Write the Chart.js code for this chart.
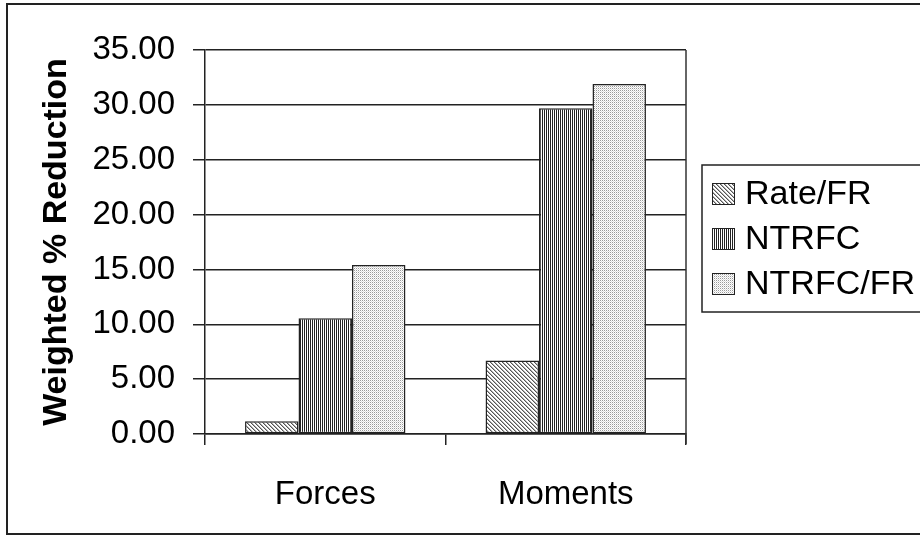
<!DOCTYPE html>
<html>
<head>
<meta charset="utf-8">
<script src="https://cdn.jsdelivr.net/npm/chart.js@4/dist/chart.umd.min.js"></script>
<style>
  html, body { margin: 0; padding: 0; background: #fff; }
  #wrap { width: 920px; height: 536px; }
</style>
</head>
<body>
<div id="wrap"><canvas id="c" width="920" height="536"></canvas></div>
<script>
// Weighted % reduction by load type
const categories = ['Forces', 'Moments'];
const seriesNames = ['Rate/FR', 'NTRFC', 'NTRFC/FR'];
const rateFR = [1.16, 6.70];
const ntrfc = [10.55, 29.69];
const ntrfcFR = [15.40, 31.90];
const yTicks = [0, 5, 10, 15, 20, 25, 30, 35];

const FONT = '"Liberation Sans", Arial, Helvetica, sans-serif';

// Small monochrome fill patterns for the bars
function makePattern(size, painter) {
  const cv = document.createElement('canvas');
  cv.width = size; cv.height = size;
  const g = cv.getContext('2d');
  g.fillStyle = '#fff';
  g.fillRect(0, 0, size, size);
  painter(g, size);
  return document.getElementById('c').getContext('2d').createPattern(cv, 'repeat');
}
const diagPattern = makePattern(4, (g, s) => {
  for (let i = 0; i < s; i++) {
    g.fillStyle = '#555'; g.fillRect(i, i, 1, 1);
    g.fillStyle = '#b0b0b0'; g.fillRect((i + 1) % s, i, 1, 1);
  }
});
const vertPattern = makePattern(2, (g, s) => {
  g.fillStyle = '#222'; g.fillRect(0, 0, 1, s);
});
const dotPattern = makePattern(2, (g, s) => {
  g.fillStyle = '#9a9a9a'; g.fillRect(0, 0, 1, 1);
  g.fillStyle = '#dddddd'; g.fillRect(1, 1, 1, 1);
});
const fills = [diagPattern, vertPattern, dotPattern];

// Outer frame, plot border on the right, and the boxed legend
const decorations = {
  id: 'decorations',
  afterDraw(chart) {
    const ctx = chart.ctx;
    const a = chart.chartArea;
    ctx.save();
    // right edge of the plot area
    ctx.strokeStyle = '#333';
    ctx.lineWidth = 1.5;
    ctx.beginPath();
    ctx.moveTo(a.right, a.top);
    ctx.lineTo(a.right, a.bottom + 10);
    ctx.stroke();
    // outer frame
    ctx.strokeStyle = '#222';
    ctx.lineWidth = 2;
    ctx.strokeRect(7, 4, 940, 530);
    // legend
    const lx = 702, ly = 165, lh = 147;
    ctx.lineWidth = 1.5;
    ctx.strokeStyle = '#222';
    ctx.strokeRect(lx, ly, 260, lh);
    ctx.font = '34px ' + FONT;
    ctx.textBaseline = 'middle';
    ctx.textAlign = 'left';
    chart.data.datasets.forEach((ds, i) => {
      const cy = 194 + i * 45;
      ctx.fillStyle = ds.backgroundColor;
      ctx.fillRect(712, cy - 11, 23, 22);
      ctx.strokeStyle = '#222';
      ctx.lineWidth = 1;
      ctx.strokeRect(712.5, cy - 10.5, 22, 21);
      ctx.fillStyle = '#000';
      ctx.fillText(ds.label, 745, cy + 1);
    });
    ctx.restore();
  }
};

const seriesData = [rateFR, ntrfc, ntrfcFR];

new Chart(document.getElementById('c'), {
  type: 'bar',
  data: {
    labels: categories,
    datasets: seriesNames.map((name, i) => ({
      label: name,
      data: seriesData[i],
      backgroundColor: fills[i],
      borderColor: '#222',
      borderWidth: 1.5,
      borderSkipped: false,
      categoryPercentage: 0.667,
      barPercentage: 1.0
    }))
  },
  options: {
    responsive: false,
    animation: false,
    devicePixelRatio: 1,
    layout: { padding: { left: 0, right: 234, top: 50, bottom: 0 } },
    plugins: {
      legend: { display: false },
      tooltip: { enabled: false }
    },
    scales: {
      x: {
        grid: {
          display: true,
          drawOnChartArea: false,
          drawTicks: true,
          tickLength: 11,
          color: '#222',
          lineWidth: 1.5,
          offset: true
        },
        border: { display: true, color: '#222', width: 1.5 },
        ticks: {
          color: '#000',
          font: { family: FONT, size: 33 },
          padding: 30
        },
        afterFit(s) { s.height = 102; }
      },
      y: {
        min: 0,
        max: 35,
        afterBuildTicks(s) { s.ticks = yTicks.map(v => ({ value: v })); },
        grid: {
          color: '#222',
          lineWidth: 1.5,
          drawTicks: true,
          tickLength: 12
        },
        border: { display: true, color: '#222', width: 1.5 },
        ticks: {
          color: '#000',
          font: { family: FONT, size: 33 },
          padding: 18,
          callback: v => Number(v).toFixed(2)
        },
        title: {
          display: true,
          text: 'Weighted % Reduction',
          color: '#000',
          font: { family: FONT, size: 34, weight: 'bold' },
          padding: { top: 36, bottom: 0 }
        },
        afterFit(s) { s.width = 205; }
      }
    }
  },
  plugins: [decorations]
});
</script>
</body>
</html>
